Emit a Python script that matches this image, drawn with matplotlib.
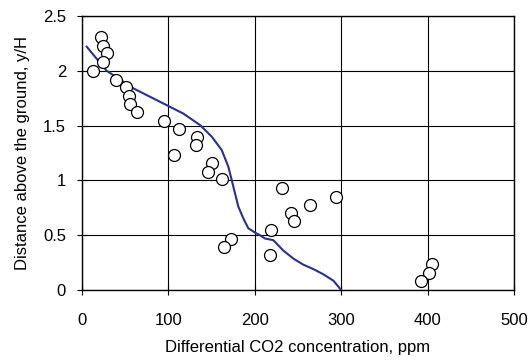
import matplotlib
matplotlib.use("Agg")
import matplotlib.pyplot as plt
from matplotlib.ticker import FuncFormatter

plt.rcParams['font.family'] = ['Liberation Sans', 'DejaVu Sans']

# Measured points (open circles)
meas_x = [21.6, 24.0, 28.6, 24.7, 13.1, 39.4, 50.9, 54.8, 55.6, 63.3,
          95.3, 112.6, 132.7, 131.6, 106.5, 150.1, 145.5, 162.4, 172.0, 164.7,
          231.0, 293.6, 263.9, 241.9, 245.4, 218.7, 218.0, 405.0, 401.6, 392.7]
meas_y = [2.31, 2.23, 2.16, 2.08, 2.00, 1.92, 1.85, 1.77, 1.70, 1.62,
          1.54, 1.47, 1.40, 1.32, 1.23, 1.156, 1.08, 1.01, 0.468, 0.389,
          0.934, 0.849, 0.776, 0.70, 0.627, 0.55, 0.316, 0.24, 0.155, 0.085]

# Model curve
model_x = [5.4, 28.6, 59.4, 101.6, 117.2, 136.6, 150.1, 161.7, 169.4, 173.3,
           177.1, 181.0, 186.7, 192.5, 200.5, 206.0, 211.8, 221.4, 233.0,
           245.0, 256.0, 268.0, 279.0, 291.0, 300.0]
model_y = [2.22, 2.00, 1.84, 1.672, 1.61, 1.505, 1.40, 1.277, 1.125, 1.003,
           0.882, 0.76, 0.654, 0.563, 0.523, 0.50, 0.47, 0.455, 0.36,
           0.285, 0.232, 0.19, 0.145, 0.085, 0.0]

x_ticks = [0, 100, 200, 300, 400, 500]
y_ticks = [0, 0.5, 1, 1.5, 2, 2.5]

fig = plt.figure(figsize=(5.31, 3.60), dpi=100)
ax = fig.add_axes([0.1544, 0.1944, 0.8136, 0.7612])

ax.plot(model_x, model_y, color='#2b2f94', lw=1.5, zorder=3)
ax.plot(meas_x, meas_y, linestyle='none', marker='o', ms=8.6,
        mfc='white', mec='black', mew=0.9, zorder=4)

ax.set_xlim(0, 500)
ax.set_ylim(0, 2.5)
ax.set_xticks(x_ticks)
ax.set_yticks(y_ticks)
ax.yaxis.set_major_formatter(FuncFormatter(lambda v, p: f"{v:g}"))
ax.grid(True, color='black', lw=0.8)
ax.set_axisbelow(True)
for s in ax.spines.values():
    s.set_color('black')
    s.set_linewidth(1.0)
ax.tick_params(direction='inout', length=7, width=0.8, labelsize=12,
               colors='black')
ax.tick_params(axis='x', pad=13)
ax.tick_params(axis='y', pad=8)

ax.set_xlabel('Differential CO2 concentration, ppm', fontsize=12, labelpad=9)
ax.set_ylabel('Distance above the ground, y/H', fontsize=12, labelpad=9)

fig.savefig('out.png', dpi=100)
